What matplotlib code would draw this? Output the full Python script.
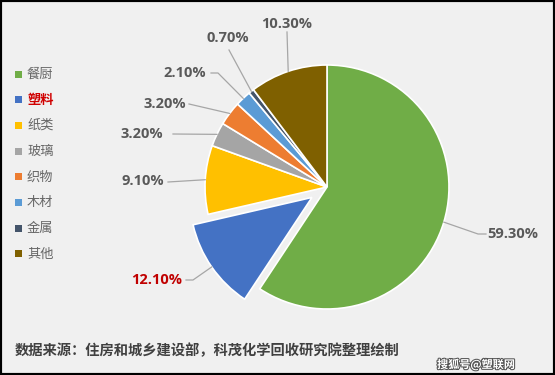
import numpy as np
import matplotlib
matplotlib.use('Agg')
import matplotlib.pyplot as plt
from matplotlib.patches import Rectangle
import matplotlib.patheffects as pe

plt.rcParams['font.family'] = ['Noto Sans CJK SC', 'DejaVu Sans']

categories = ['餐厨', '塑料', '纸类', '玻璃', '织物', '木材', '金属', '其他']
shares = [59.3, 12.1, 9.1, 3.2, 3.2, 2.1, 0.7, 10.3]
value_labels = ['59.30%', '12.10%', '9.10%', '3.20%', '3.20%', '2.10%', '0.70%', '10.30%']
colors = ['#70AD47', '#4472C4', '#FFC000', '#A5A5A5', '#ED7D31', '#5B9BD5', '#44546A', '#7F6000']
explode = [0, 0.15, 0, 0, 0, 0, 0, 0]
source = '数据来源：住房和城乡建设部，科茂化学回收研究院整理绘制'
watermark = '搜狐号@塑联网'

W, H = 555, 375
CX, CY, R = 327, 187, 122  # pie centre / radius in image pixels (y down)

# label layout (image px): text centre, then the bend points going toward the wedge
label_layout = [
    ((513, 234), [(486, 234), (478, 234)]),
    ((157, 280), [(186, 280), (193, 280)]),
    ((143, 181), [(168, 182)]),
    ((142, 134), [(173, 134)]),
    ((165, 104), [(189, 104)]),
    ((185, 73), [(211, 73), (218, 73)]),
    ((228, 38), [(229, 50)]),
    ((287, 24), [(287, 32)]),
]

def fy(y):
    return H - y

fig = plt.figure(figsize=(W / 100, H / 100), dpi=100, facecolor='#F0F0F0')
ax = fig.add_axes([0, 0, 1, 1])
ax.set_xlim(0, W)
ax.set_ylim(0, H)
ax.set_aspect('equal')
ax.axis('off')

# pie explode offsets are absolute, so scale by the radius
wedges, _ = ax.pie(shares, colors=colors, explode=[e * R for e in explode], startangle=90,
                   counterclock=False, center=(CX, fy(CY)), radius=R,
                   wedgeprops=dict(edgecolor='white', linewidth=1.2))
ax.set_xlim(0, W)
ax.set_ylim(0, H)

grey = '#595959'
for i, w in enumerate(wedges):
    mid = np.deg2rad((w.theta1 + w.theta2) / 2)
    cx, cy = w.center
    ax_x = cx + w.r * np.cos(mid)
    ax_y = cy + w.r * np.sin(mid)
    (tx, ty), bends = label_layout[i]
    xs = [b[0] for b in bends] + [ax_x]
    ys = [fy(b[1]) for b in bends] + [ax_y]
    ax.plot(xs, ys, color='#A6A6A6', lw=0.9, zorder=3)
    col = '#C00000' if i == 1 else grey
    ax.text(tx, fy(ty), value_labels[i], ha='center', va='center', fontsize=10.5,
            fontweight='bold', color=col, family=['Open Sans', 'DejaVu Sans'])

# legend
for i, (cat, c) in enumerate(zip(categories, colors)):
    y = 74 + i * 25.7
    ax.add_patch(Rectangle((15, fy(y) - 3.5), 7, 7, facecolor=c, edgecolor='none'))
    if i == 1:
        ax.text(27, fy(y), cat, ha='left', va='center', fontsize=9.5,
                fontweight='bold', color='#D00000')
    else:
        ax.text(27, fy(y), cat, ha='left', va='center', fontsize=9.5, color='#666666')

ax.text(15, fy(351), source, ha='left', va='center', fontsize=10.3,
        fontweight='bold', color='#404040')
ax.text(476, fy(365), watermark, ha='center', va='center', fontsize=8,
        fontweight='bold', color='white',
        path_effects=[pe.withStroke(linewidth=1.5, foreground='#555555')])

# screenshot frame
fig.patches.append(Rectangle((0, 0), 1, 1, transform=fig.transFigure,
                             fill=False, edgecolor='black', linewidth=3))

fig.savefig('out.png', dpi=100, facecolor=fig.get_facecolor())
